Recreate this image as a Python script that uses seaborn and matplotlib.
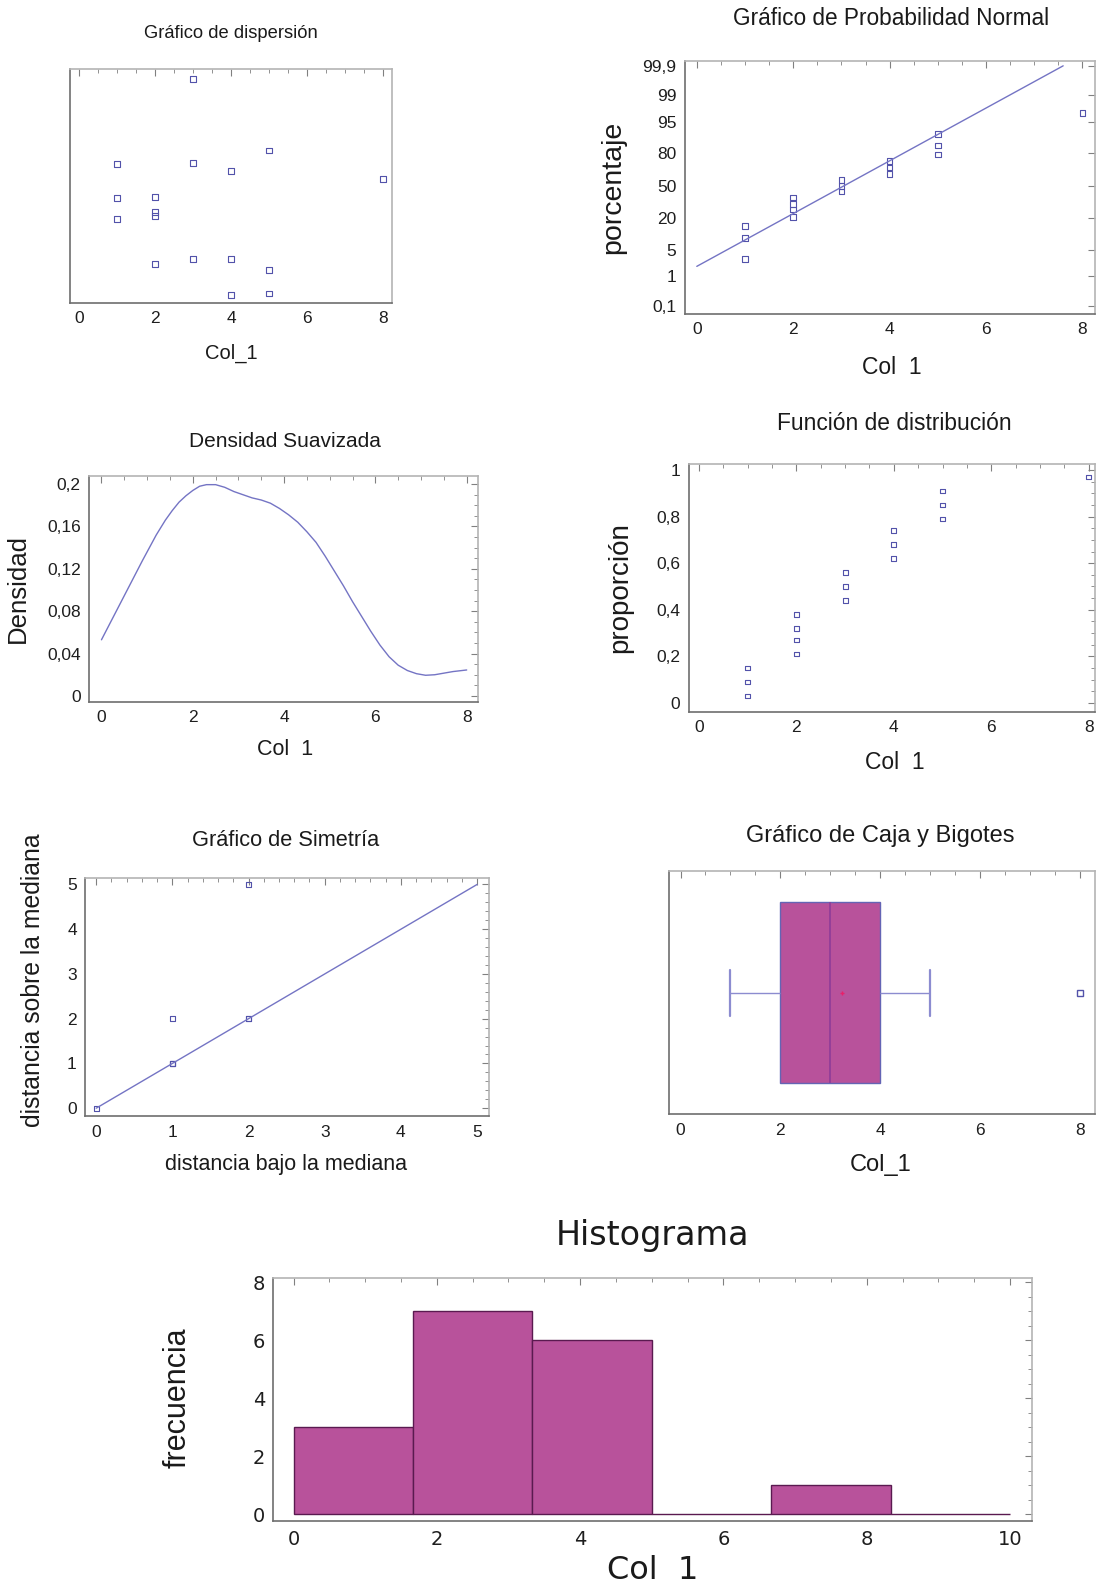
import matplotlib
matplotlib.use("Agg")
import matplotlib.pyplot as plt
from matplotlib import font_manager
from matplotlib.ticker import MultipleLocator, FixedLocator, FuncFormatter
from statistics import NormalDist
import numpy as np
import seaborn as sns


# datos de Col_1
col1_values = [1, 1, 1, 2, 2, 2, 2, 3, 3, 3, 4, 4, 4, 5, 5, 5, 8]

# posicion vertical (aleatoria) de cada punto en el grafico de dispersion
scatter_y = [0.595, 0.447, 0.360, 0.452, 0.388, 0.371, 0.165,
             0.955, 0.599, 0.186, 0.563, 0.186, 0.034,
             0.651, 0.142, 0.040, 0.528]

# proporciones acumuladas (funcion de distribucion / probabilidad normal)
cum_prop = [0.03, 0.09, 0.15, 0.21, 0.27, 0.32, 0.38, 0.44, 0.50,
            0.56, 0.62, 0.68, 0.74, 0.79, 0.85, 0.91, 0.97]

# recta de referencia en el grafico de probabilidad normal
normal_line_x = [0, 7.6]
normal_line_pct = [1.9, 99.9]
normal_ticks = [0.1, 1, 5, 20, 50, 80, 95, 99, 99.9]

# densidad suavizada
dens_x = [0.0, 0.3, 0.6, 0.9, 1.2, 1.4, 1.55, 1.7, 1.85, 2.0, 2.15, 2.3,
          2.5, 2.7, 2.9, 3.1, 3.3, 3.5, 3.7, 3.9, 4.1, 4.3, 4.5, 4.7,
          4.9, 5.1, 5.3, 5.5, 5.7, 5.9, 6.1, 6.3, 6.5, 6.7, 6.9, 7.1,
          7.3, 7.5, 7.7, 7.9, 8.0]
dens_y = [0.053, 0.078, 0.103, 0.128, 0.152, 0.166, 0.175, 0.183, 0.189,
          0.194, 0.198, 0.1995, 0.1995, 0.197, 0.193, 0.190, 0.187, 0.185,
          0.182, 0.177, 0.171, 0.164, 0.155, 0.145, 0.132, 0.118, 0.104,
          0.089, 0.075, 0.061, 0.048, 0.037, 0.029, 0.024, 0.021, 0.0195,
          0.020, 0.0215, 0.023, 0.024, 0.0245]

# grafico de simetria
dist_below = [2, 2, 2, 1, 1, 1, 1, 0]
dist_above = [5, 2, 2, 2, 1, 1, 1, 0]

# histograma
hist_edges = [0, 5 / 3, 10 / 3, 5, 20 / 3, 25 / 3, 10]
hist_counts = [3, 7, 6, 0, 1, 0]


PURPLE = "#B8529B"
MARK = "#5252AA"
LINE = "#7474C4"

sns.set_style("white")
names = {f.name for f in font_manager.fontManager.ttflist}
NARROW = "Liberation Sans Narrow" if "Liberation Sans Narrow" in names else "Liberation Sans"
plt.rcParams["font.family"] = [NARROW, "DejaVu Sans"]

W, H = 1097, 1589
S = 1097 / 1083   # medidas tomadas sobre la vista de 1083 px

fig = plt.figure(figsize=(W / 100, H / 100), dpi=100)


def panel(l, t, r, b):
    l, t, r, b = l * S, t * S, r * S, b * S
    ax = fig.add_axes([l / W, 1 - b / H, (r - l) / W, (b - t) / H])
    for side in ["left", "bottom"]:
        ax.spines[side].set_color("#6e6e6e")
    for side in ["top", "right"]:
        ax.spines[side].set_color("#b4b4b4")
    for sp in ax.spines.values():
        sp.set_linewidth(1.2)
    ax.tick_params(which="both", direction="in", top=True, right=True,
                   color="#808080", labelsize=12.5, pad=6,
                   labelcolor="#1e1e1e")
    ax.tick_params(which="major", length=5)
    ax.tick_params(which="minor", length=3)
    return ax


def label(x, y, txt, size, rot=0, family=None, weight="normal"):
    fig.text(x * S / W, 1 - y * S / H, txt, ha="center", va="center",
             fontsize=size, rotation=rot, family=family or NARROW,
             weight=weight, color="#1a1a1a")


comma = FuncFormatter(lambda v, p: f"{v:g}".replace(".", ","))

# 1 - grafico de dispersion
ax1 = panel(69, 68, 387, 299)
sns.scatterplot(x=col1_values, y=scatter_y, ax=ax1, marker="s", s=18,
                facecolor="none", edgecolor=MARK, linewidth=0.8)
ax1.set_xlim(-0.24, 8.24)
ax1.set_ylim(0, 1)
ax1.xaxis.set_major_locator(MultipleLocator(2))
ax1.xaxis.set_minor_locator(MultipleLocator(0.5))
ax1.set_yticks([])
ax1.tick_params(axis="y", left=False, right=False)
label(228, 33, "Gráfico de dispersión", 13.2)
label(228, 349, "Col_1", 14.5)

# 2 - grafico de probabilidad normal
nd = NormalDist()


def fwd(p):
    p = np.clip(np.asarray(p, dtype=float) / 100, 1e-9, 1 - 1e-9)
    return np.array([nd.inv_cdf(v) for v in p.ravel()]).reshape(p.shape)


def inv(z):
    z = np.asarray(z, dtype=float)
    return np.array([nd.cdf(v) * 100 for v in z.ravel()]).reshape(z.shape)


ax2 = panel(676, 60, 1081, 310)
ax2.set_yscale("function", functions=(fwd, inv))
sns.lineplot(x=normal_line_x, y=normal_line_pct, ax=ax2, color=LINE, linewidth=1)
sns.scatterplot(x=col1_values, y=[p * 100 for p in cum_prop], ax=ax2, marker="s",
                s=16, facecolor="none", edgecolor=MARK, linewidth=0.8)
ax2.set_xlim(-0.25, 8.26)
ax2.set_ylim(0.048, 99.936)
ax2.yaxis.set_major_locator(FixedLocator(normal_ticks))
ax2.yaxis.set_minor_locator(FixedLocator([]))
ax2.yaxis.set_major_formatter(comma)
ax2.xaxis.set_major_locator(MultipleLocator(2))
ax2.xaxis.set_minor_locator(MultipleLocator(0.5))
label(880, 18, "Gráfico de Probabilidad Normal", 16.3)
label(605, 185, "porcentaje", 20.5, rot=90, family="Liberation Sans")
label(880, 363, "Col  1", 16.5)

# 3 - densidad suavizada
ax3 = panel(88, 470, 472, 693)
sns.lineplot(x=dens_x, y=dens_y, ax=ax3, color=LINE, linewidth=1)
ax3.set_xlim(-0.27, 8.25)
ax3.set_ylim(-0.0057, 0.2076)
ax3.xaxis.set_major_locator(MultipleLocator(2))
ax3.xaxis.set_minor_locator(MultipleLocator(0.5))
ax3.yaxis.set_major_locator(MultipleLocator(0.04))
ax3.yaxis.set_minor_locator(MultipleLocator(0.01))
ax3.yaxis.set_major_formatter(comma)
label(281, 436, "Densidad Suavizada", 15)
label(18, 581, "Densidad", 18.5, rot=90, family="Liberation Sans")
label(281, 740, "Col  1", 15.5)

# 4 - funcion de distribucion
ax4 = panel(680, 458, 1081, 703)
sns.scatterplot(x=col1_values, y=cum_prop, ax=ax4, marker="s", s=12,
                facecolor="none", edgecolor=MARK, linewidth=0.8)
ax4.set_xlim(-0.21, 8.13)
ax4.set_ylim(-0.039, 1.026)
ax4.xaxis.set_major_locator(MultipleLocator(2))
ax4.xaxis.set_minor_locator(MultipleLocator(0.5))
ax4.yaxis.set_major_locator(MultipleLocator(0.2))
ax4.yaxis.set_minor_locator(MultipleLocator(0.05))
ax4.yaxis.set_major_formatter(comma)
label(883, 418, "Función de distribución", 16.4)
label(612, 580, "proporción", 20, rot=90, family="Liberation Sans")
label(883, 753, "Col  1", 16.5)

# 5 - grafico de simetria
ax5 = panel(84, 867, 483, 1102)
sns.lineplot(x=[0, 5], y=[0, 5], ax=ax5, color=LINE, linewidth=1)
sns.scatterplot(x=dist_below, y=dist_above, ax=ax5, marker="s", s=12,
                facecolor="none", edgecolor=MARK, linewidth=0.8)
ax5.set_xlim(-0.146, 5.16)
ax5.set_ylim(-0.18, 5.14)
ax5.xaxis.set_major_locator(MultipleLocator(1))
ax5.xaxis.set_minor_locator(MultipleLocator(0.2))
ax5.yaxis.set_major_locator(MultipleLocator(1))
ax5.yaxis.set_minor_locator(MultipleLocator(0.2))
label(282, 830, "Gráfico de Simetría", 15.7)
label(33, 968, "distancia sobre la mediana", 17.8, rot=90, family="Liberation Sans")
label(282, 1150, "distancia bajo la mediana", 15.5)

# 6 - caja y bigotes
ax6 = panel(660, 860, 1081, 1100)
sns.boxplot(x=col1_values, ax=ax6, orient="h", width=0.745, color=PURPLE,
            saturation=1, linewidth=1, linecolor="#6464B4",
            fliersize=4, capwidths=0.19,
            flierprops=dict(marker="s", markerfacecolor="none",
                            markeredgecolor=MARK),
            showmeans=True,
            meanprops=dict(marker="+", markeredgecolor="#E8206A",
                           markersize=3),
            medianprops=dict(color="#8E3C98", linewidth=1.2),
            whiskerprops=dict(color="#8C8CD0"),
            capprops=dict(color="#8C8CD0", linewidth=1.6))
ax6.set_xlim(-0.24, 8.3)
ax6.set_ylim(0.5, -0.5)
ax6.xaxis.set_major_locator(MultipleLocator(2))
ax6.xaxis.set_minor_locator(MultipleLocator(0.5))
ax6.set_yticks([])
ax6.tick_params(axis="y", left=False, right=False)
label(869, 825, "Gráfico de Caja y Bigotes", 17)
label(869, 1150, "Col_1", 17)

# 7 - histograma
ax7 = panel(270, 1262, 1019, 1502)
centers = [(a + b) / 2 for a, b in zip(hist_edges[:-1], hist_edges[1:])]
sns.histplot(x=centers, weights=hist_counts, bins=hist_edges, ax=ax7,
             color=PURPLE, alpha=1, edgecolor="#5A1A50", linewidth=1)
ax7.set_xlim(-0.28, 10.31)
ax7.set_ylim(-0.24, 8.14)
ax7.set_xlabel("")
ax7.set_ylabel("")
ax7.xaxis.set_major_locator(MultipleLocator(2))
ax7.xaxis.set_minor_locator(MultipleLocator(0.5))
ax7.yaxis.set_major_locator(MultipleLocator(2))
ax7.yaxis.set_minor_locator(MultipleLocator(0.5))
ax7.tick_params(labelsize=14, labelfontfamily="DejaVu Sans")
label(644, 1220, "Histograma", 24, family="DejaVu Sans")
label(175, 1380, "frecuencia", 22, rot=90)
label(644, 1550, "Col  1", 23, family="DejaVu Sans", weight="medium")

fig.savefig("out.png", dpi=100)
plt.close(fig)
